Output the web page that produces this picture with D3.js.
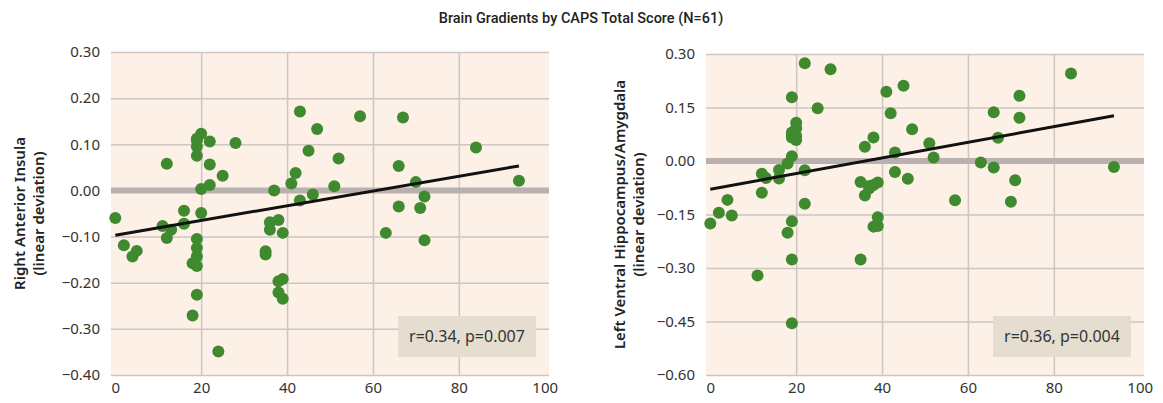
<!DOCTYPE html>
<html>
<head>
<meta charset="utf-8">
<script src="https://cdn.jsdelivr.net/npm/d3@7"></script>
<style>
  body { margin: 0; background: #fff; }
  svg { display: block; }
  text { font-family: "Noto Sans", "Open Sans", sans-serif; fill: #333; }
</style>
</head>
<body>
<svg id="chart" width="1163" height="403"></svg>
<script>
// CAPS total score (x) and gradient deviation (y)
const insulaCaps = [0, 2, 4, 5, 11, 12, 13, 12, 16, 16, 20, 19, 19, 19, 18, 19, 19, 18, 24,
  20, 19, 19, 19, 22, 28, 22, 25, 22, 20, 36, 36, 38, 39, 35, 35, 38, 39, 38, 39,
  37, 41, 42, 45, 43, 47, 46, 43, 57, 67, 52, 66, 84, 51, 70, 72, 94, 66, 71, 63, 72, 19]
const insulaDev = [-0.060, -0.119, -0.143, -0.131, -0.077, -0.103, -0.085, 0.058, -0.072, -0.044, -0.049,
  -0.105, -0.125, -0.143, -0.158, -0.164, -0.226, -0.271, -0.349,
  0.123, 0.108, 0.095, 0.075, 0.106, 0.103, 0.056, 0.032, 0.012, 0.003,
  -0.069, -0.085, -0.064, -0.092, -0.132, -0.139, -0.197, -0.192, -0.221, -0.235,
  0.000, 0.015, 0.038, 0.086, 0.171, 0.133, -0.009, -0.022, 0.161, 0.158, 0.069, 0.053,
  0.093, 0.009, 0.018, -0.013, 0.021, -0.035, -0.038, -0.092, -0.108, 0.112]

const hippoCaps = [0, 2, 4, 5, 11, 12, 13, 12, 16, 16, 18, 19, 19, 20, 19, 20, 20, 19, 22, 28,
  25, 22, 22, 19, 18, 19, 19, 36, 38, 35, 36, 37, 38, 39, 35, 39, 38, 39,
  41, 45, 42, 47, 43, 43, 46, 84, 72, 66, 72, 51, 52, 67, 63, 66, 94, 71, 57, 70, 37, 19, 20]
const hippoDev = [-0.175, -0.145, -0.109, -0.153, -0.321, -0.036, -0.048, -0.089, -0.025, -0.049,
  -0.007, 0.013, 0.073, 0.059, 0.066, 0.092, 0.107, 0.179, 0.274, 0.257,
  0.148, -0.026, -0.120, -0.169, -0.201, -0.276, -0.455,
  0.040, 0.066, -0.059, -0.097, -0.077, -0.067, -0.060, -0.276, -0.158, -0.184, -0.182,
  0.194, 0.211, 0.134, 0.089, 0.024, -0.031, -0.050, 0.245, 0.183, 0.137, 0.121,
  0.050, 0.010, 0.065, -0.004, -0.018, -0.017, -0.054, -0.110, -0.114, -0.070, 0.080, 0.070]

// fitted regression lines: [x, y] at both ends
const insulaFit = [[0, -0.097], [94, 0.053]]
const hippoFit = [[0, -0.079], [94, 0.127]]

const xTicks = [0, 20, 40, 60, 80, 100]
const insulaTicks = [0.30, 0.20, 0.10, 0.00, -0.10, -0.20, -0.30, -0.40]
const hippoTicks = [0.30, 0.15, 0.00, -0.15, -0.30, -0.45, -0.60]

const title = "Brain Gradients by CAPS Total Score (N=61)"

const svg = d3.select('#chart')

svg.append('text')
  .attr('x', 581)
  .attr('y', 23)
  .attr('text-anchor', 'middle')
  .style('font-size', '14.5px')
  .style('font-weight', '500')
  .style('font-family', 'Roboto, "Noto Sans", sans-serif')
  .style('fill', '#222')
  .text(title)

drawPanel({
  left: 111, right: 549, top: 52, bottom: 375,
  yDomain: [-0.4, 0.3], yTicks: insulaTicks,
  xs: insulaCaps, ys: insulaDev, fit: insulaFit,
  label: ["Right Anterior Insula", "(linear deviation)"], labelX: 20,
  stat: "r=0.34, p=0.007"
})

drawPanel({
  left: 706, right: 1144, top: 54, bottom: 375,
  yDomain: [-0.6, 0.3], yTicks: hippoTicks,
  xs: hippoCaps, ys: hippoDev, fit: hippoFit,
  label: ["Left Ventral Hippocampus/Amygdala", "(linear deviation)"], labelX: 620,
  stat: "r=0.36, p=0.004"
})

function fmt(v) {
  return d3.format('.2f')(v).replace('-', '\u2212')
}

function drawPanel(p) {
  const x = d3.scaleLinear().domain([-1, 101]).range([p.left, p.right])
  const y = d3.scaleLinear().domain(p.yDomain).range([p.bottom, p.top])
  const w = p.right - p.left
  const h = p.bottom - p.top

  const g = svg.append('g')

  g.append('rect')
    .attr('x', p.left)
    .attr('y', p.top)
    .attr('width', w)
    .attr('height', h)
    .attr('fill', '#fcf0e7')

  // horizontal gridlines
  const yGrid = d3.axisLeft(y)
    .tickValues(p.yTicks)
    .tickSize(-w)
    .tickFormat('')
  const gy = g.append('g')
    .attr('transform', 'translate(' + p.left + ',0)')
    .call(yGrid)
  gy.select('.domain').remove()
  gy.selectAll('line').attr('stroke', '#cfc6c2').attr('stroke-width', 1.5)

  // vertical gridlines
  const xGrid = d3.axisBottom(x)
    .tickValues([20, 40, 60, 80])
    .tickSize(-h)
    .tickFormat('')
  const gx = g.append('g')
    .attr('transform', 'translate(0,' + p.bottom + ')')
    .call(xGrid)
  gx.select('.domain').remove()
  gx.selectAll('line').attr('stroke', '#cfc6c2').attr('stroke-width', 1.5)

  // zero reference
  g.append('line')
    .attr('x1', p.left)
    .attr('x2', p.right)
    .attr('y1', y(0))
    .attr('y2', y(0))
    .attr('stroke', '#b9b1af')
    .attr('stroke-width', 6)

  // tick labels
  const yAxis = d3.axisLeft(y)
    .tickValues(p.yTicks)
    .tickSize(0)
    .tickPadding(11)
    .tickFormat(fmt)
  const ay = g.append('g')
    .attr('transform', 'translate(' + p.left + ',0)')
    .call(yAxis)
  ay.select('.domain').remove()
  ay.selectAll('text').style('font-size', '15px').attr('fill', '#333')
    .style('font-family', '"Noto Sans", sans-serif')

  const xAxis = d3.axisBottom(x)
    .tickValues(xTicks)
    .tickSize(0)
    .tickPadding(7)
  const ax = g.append('g')
    .attr('transform', 'translate(0,' + p.bottom + ')')
    .call(xAxis)
  ax.select('.domain').remove()
  ax.selectAll('text').style('font-size', '15px').attr('fill', '#333')
    .style('font-family', '"Noto Sans", sans-serif')

  // y axis title
  const cy = (p.top + p.bottom) / 2
  p.label.forEach(function(t, i) {
    g.append('text')
      .attr('transform', 'translate(' + (p.labelX + i * 19) + ',' + cy + ') rotate(-90)')
      .attr('text-anchor', 'middle')
      .attr('dy', '0.35em')
      .style('font-size', '15px')
      .style('font-weight', '600')
      .style('fill', '#222')
      .text(t)
  })

  // points
  g.append('g')
    .selectAll('circle')
    .data(p.xs)
    .enter()
    .append('circle')
    .attr('cx', d => x(d))
    .attr('cy', (d, i) => y(p.ys[i]))
    .attr('r', 6)
    .attr('fill', '#3f8a2f')

  // regression line
  g.append('path')
    .datum(p.fit)
    .attr('fill', 'none')
    .attr('stroke', '#111')
    .attr('stroke-width', 3)
    .attr('d', d3.line().x(d => x(d[0])).y(d => y(d[1])))

  // stats box
  const bw = 138, bh = 41
  g.append('rect')
    .attr('x', p.right - 13 - bw)
    .attr('y', 316)
    .attr('width', bw)
    .attr('height', bh)
    .attr('fill', '#e4ddd0')
  g.append('text')
    .attr('x', p.right - 13 - bw / 2)
    .attr('y', 316 + bh / 2)
    .attr('dy', '0.35em')
    .attr('text-anchor', 'middle')
    .style('font-size', '16px')
    .text(p.stat)
}
</script>
</body>
</html>
